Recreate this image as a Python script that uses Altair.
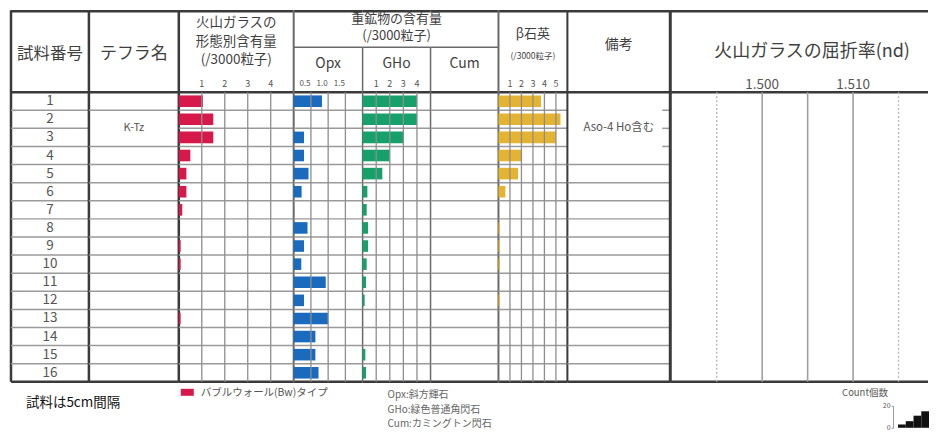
import altair as alt
import pandas as pd

# ---------------- data ----------------
samples = list(range(1, 17))
glass_bw = [1.05, 1.5, 1.5, 0.5, 0.33, 0.33, 0.15, 0, 0.08, 0.08, 0, 0, 0.08, 0, 0, 0]
opx = [0.82, 0, 0.3, 0.3, 0.43, 0.23, 0, 0.4, 0.3, 0.22, 0.93, 0.3, 1.0, 0.63, 0.63, 0.72]
gho = [4.0, 4.0, 3.0, 2.0, 1.45, 0.35, 0.3, 0.4, 0.4, 0.3, 0.25, 0.15, 0, 0, 0.2, 0.25]
beta_qz = [3.7, 5.4, 5.0, 2.0, 1.7, 0.6, 0, 0.12, 0.12, 0.12, 0, 0.12, 0, 0, 0, 0]

glass_ticks = [1, 2, 3, 4]
opx_ticks = [0.5, 1.0, 1.5]
opx_tick_labels = ["0.5", "1.0", "1.5"]
gho_ticks = [1, 2, 3, 4]
beta_ticks = [1, 2, 3, 4, 5]
ri_label_values = [1.500, 1.510]
ri_label_texts = ["1.500", "1.510"]
ri_solid = [1.500, 1.505, 1.510]
ri_dotted = [1.495, 1.515]

tephra_name, tephra_rows = "K-Tz", (2, 3)
note_text, note_rows = "Aso-4 Ho含む", (1, 4)
hist_bins = ["a", "b", "c", "d"]
hist_counts = [3, 6, 11, 15]

# ---------------- style ----------------
FONT = "Noto Sans CJK JP"
DARK = "#3a3a3a"
MID = "#6a6a6a"
ROWC = "#9a9a9a"
GRIDC = "#8e8e8e"
TXT = "#3f3f3f"
RED, BLUE, GREEN, YELLOW = "#d7184b", "#1a6bbd", "#16a06a", "#e5b332"

H = 372
YS = alt.Scale(domain=[0, 16], range=[82, 372], nice=False, zero=False)
one = pd.DataFrame({"k": [0]})


def xs(dom):
    return alt.Scale(domain=dom, nice=False, zero=False)


def vline(x, y0, y1, color, w, **kw):
    return alt.Chart(one).mark_rule(color=color, strokeWidth=w, **kw).encode(
        x=alt.value(x), y=alt.value(y0), y2=alt.value(y1))


def hline(x0, x1, y, color, w):
    return alt.Chart(one).mark_rule(color=color, strokeWidth=w).encode(
        x=alt.value(x0), x2=alt.value(x1), y=alt.value(y))


def label(text, x, y, size, color=TXT, align="center", weight="normal"):
    return alt.Chart(pd.DataFrame({"t": [text]})).mark_text(
        font=FONT, fontSize=size, color=color, align=align, baseline="middle",
        fontWeight=weight).encode(x=alt.value(x), y=alt.value(y), text="t:N")


def frame(w, lcol, lw, ltop=0):
    return [hline(0, w, 1, DARK, 2.5), hline(0, w, 82, DARK, 2.5),
            hline(0, w, 372, DARK, 2.5), vline(0, ltop, 372, lcol, lw)]


def row_lines(w, bounds):
    return alt.Chart(pd.DataFrame({"b": bounds})).mark_rule(
        color=ROWC, strokeWidth=1.5).encode(
        x=alt.value(0), x2=alt.value(w), y=alt.Y("b:Q", scale=YS, axis=None))


def bars(values, dom, color):
    df = pd.DataFrame({"sample": samples, "v": values})
    return alt.Chart(df).transform_filter("datum.v > 0").transform_calculate(
        y0="datum.sample - 1 + 0.18", y1="datum.sample - 0.18", z="0"
    ).mark_rect(color=color).encode(
        x=alt.X("v:Q", scale=xs(dom), axis=None), x2="z:Q",
        y=alt.Y("y0:Q", scale=YS, axis=None), y2="y1:Q")


def grid(ticks, dom, color=GRIDC, w=1.3, **kw):
    return alt.Chart(pd.DataFrame({"t": ticks})).mark_rule(
        color=color, strokeWidth=w, **kw).encode(
        x=alt.X("t:Q", scale=xs(dom), axis=None), y=alt.value(82), y2=alt.value(372))


def tick_labels(ticks, texts, dom, y, size, dx=0):
    return alt.Chart(pd.DataFrame({"t": ticks, "s": texts})).mark_text(
        font=FONT, fontSize=size, color="#555", baseline="middle", dx=dx).encode(
        x=alt.X("t:Q", scale=xs(dom), axis=None), y=alt.value(y), text="s:N")


all_bounds = samples[:-1]

# P1: sample numbers
w1 = 78
num_df = pd.DataFrame({"sample": samples})
nums = alt.Chart(num_df).transform_calculate(c="datum.sample - 0.5").mark_text(
    font=FONT, fontSize=13.5, color="#555", baseline="middle").encode(
    x=alt.value(w1 / 2), y=alt.Y("c:Q", scale=YS, axis=None), text="sample:N")
p1 = alt.layer(*frame(w1, DARK, 2.5), row_lines(w1, all_bounds),
               label("試料番号", w1 / 2, 44, 16.5), nums).properties(width=w1, height=H)

# P2: tephra
w2 = 90
teph_df = pd.DataFrame({"name": [tephra_name], "r0": [tephra_rows[0]], "r1": [tephra_rows[1]]})
teph = alt.Chart(teph_df).transform_calculate(c="(datum.r0 - 1 + datum.r1) / 2").mark_text(
    font=FONT, fontSize=11, color="#555", baseline="middle").encode(
    x=alt.value(w2 / 2), y=alt.Y("c:Q", scale=YS, axis=None), text="name:N")
b2 = [b for b in all_bounds if not (tephra_rows[0] <= b < tephra_rows[1])]
p2 = alt.layer(*frame(w2, DARK, 2.5), row_lines(w2, b2),
               label("テフラ名", w2 / 2, 44, 17), teph).properties(width=w2, height=H)

# P3: glass
w3 = 115
d3 = [0, 5]
p3 = alt.layer(*frame(w3, DARK, 2.5), row_lines(w3, all_bounds),
               label("火山ガラスの", w3 / 2, 13, 13.5),
               label("形態別含有量", w3 / 2, 31.5, 13.5),
               label("(/3000粒子)", w3 / 2, 50, 13.5),
               tick_labels(glass_ticks, [str(t) for t in glass_ticks], d3, 73.5, 9),
               bars(glass_bw, d3, RED), grid(glass_ticks, d3)).properties(width=w3, height=H)

# P4: Opx
w4 = 69
d4 = [0, 2]
p4 = alt.layer(*frame(w4, MID, 2), hline(0, w4, 37, MID, 1.5), row_lines(w4, all_bounds),
               label("Opx", w4 / 2, 54, 14),
               tick_labels(opx_ticks, opx_tick_labels, d4, 73.5, 8, dx=-6),
               bars(opx, d4, BLUE), grid(opx_ticks, d4)).properties(width=w4, height=H)

# P5: GHo
w5 = 68
d5 = [0, 5]
p5 = alt.layer(*frame(w5, MID, 1.5, 37), hline(0, w5, 37, MID, 1.5), row_lines(w5, all_bounds),
               label("重鉱物の含有量", w5 / 2, 8.5, 13),
               label("(/3000粒子)", w5 / 2, 26, 13),
               label("GHo", w5 / 2, 54, 14),
               tick_labels(gho_ticks, [str(t) for t in gho_ticks], d5, 73.5, 9),
               bars(gho, d5, GREEN), grid(gho_ticks, d5)).properties(width=w5, height=H)

# P6: Cum
w6 = 68
p6 = alt.layer(*frame(w6, MID, 1.5, 37), hline(0, w6, 37, MID, 1.5), row_lines(w6, all_bounds),
               label("Cum", w6 / 2, 54, 14)).properties(width=w6, height=H)

# P7: beta quartz
w7 = 69
d7 = [0, 6]
p7 = alt.layer(*frame(w7, MID, 2), row_lines(w7, all_bounds),
               label("β石英", w7 / 2, 24, 13),
               label("(/3000粒子)", w7 / 2, 46, 8.5),
               tick_labels(beta_ticks, [str(t) for t in beta_ticks], d7, 73.5, 9),
               bars(beta_qz, d7, YELLOW), grid(beta_ticks, d7)).properties(width=w7, height=H)

# P8: notes
w8 = 103
note_df = pd.DataFrame({"name": [note_text], "r0": [note_rows[0]], "r1": [note_rows[1]]})
note = alt.Chart(note_df).transform_calculate(c="(datum.r0 - 1 + datum.r1) / 2").mark_text(
    font=FONT, fontSize=11.5, color="#555", baseline="middle").encode(
    x=alt.value(w8 / 2), y=alt.Y("c:Q", scale=YS, axis=None), text="name:N")
b8_in = [b for b in all_bounds if note_rows[0] <= b < note_rows[1]]
b8 = [b for b in all_bounds if b not in b8_in]
note_ticks = alt.Chart(pd.DataFrame({"b": b8_in})).mark_rule(color=ROWC, strokeWidth=1.5).encode(
    x=alt.value(w8 - 8), x2=alt.value(w8), y=alt.Y("b:Q", scale=YS, axis=None))
p8 = alt.layer(*frame(w8, DARK, 2), row_lines(w8, b8), note_ticks,
               label("備考", w8 / 2, 35, 14), note).properties(width=w8, height=H)

# P9: refractive index
w9 = 258
d9 = [1.48989, 1.51824]
p9 = alt.layer(*frame(w9, DARK, 3),
               label("火山ガラスの屈折率(nd)", 142, 42, 18),
               tick_labels(ri_label_values, ri_label_texts, d9, 75, 13.5),
               grid(ri_solid, d9, color="#a0a0a0", w=1.6),
               grid(ri_dotted, d9, color="#b5b5b5", w=1.3, strokeDash=[2, 2])
               ).properties(width=w9, height=H)

table = alt.hconcat(p1, p2, p3, p4, p5, p6, p7, p8, p9, spacing=0, bounds="flush")

# ---------------- legend row ----------------
LH = 44
swatch = alt.Chart(one).mark_rect(color=RED).encode(
    x=alt.value(170), x2=alt.value(183), y=alt.value(5), y2=alt.value(12))
leg = alt.layer(
    swatch,
    label("バブルウォール(Bw)タイプ", 190, 9, 10.5, color="#555", align="left"),
    label("試料は5cm間隔", 15, 19, 13.5, color="#111", align="left"),
    label("Opx:斜方輝石", 377, 11, 10, color="#666", align="left"),
    label("GHo:緑色普通角閃石", 377, 26, 10, color="#666", align="left"),
    label("Cum:カミングトン閃石", 377, 40, 10, color="#666", align="left"),
    label("Count個数", 832, 9, 9.5, color="#555", align="left"),
).properties(width=883, height=LH)

hist = alt.Chart(pd.DataFrame({"bin": hist_bins, "c": hist_counts})).mark_bar(color="#111").encode(
    x=alt.X("bin:O", scale=alt.Scale(range=[5, 36], paddingInner=0, paddingOuter=0), axis=None),
    y=alt.Y("c:Q", scale=alt.Scale(domain=[0, 20], range=[44, 22], nice=False),
            axis=alt.Axis(values=[0, 20], title=None, labelFontSize=7, labelColor="#555",
                          domainColor="#999", tickColor="#999", tickSize=2, labelPadding=1,
                          grid=False, labelFont=FONT)),
).properties(width=36, height=LH)

legend_row = alt.hconcat(leg, hist, spacing=0, bounds="flush")

chart = alt.vconcat(table, legend_row, spacing=0, bounds="full").properties(
    padding={"left": 1, "top": 0, "right": 0, "bottom": 0}
).configure_view(strokeWidth=0)

chart.save("out.html", embed_options={"renderer": "svg", "actions": False})
